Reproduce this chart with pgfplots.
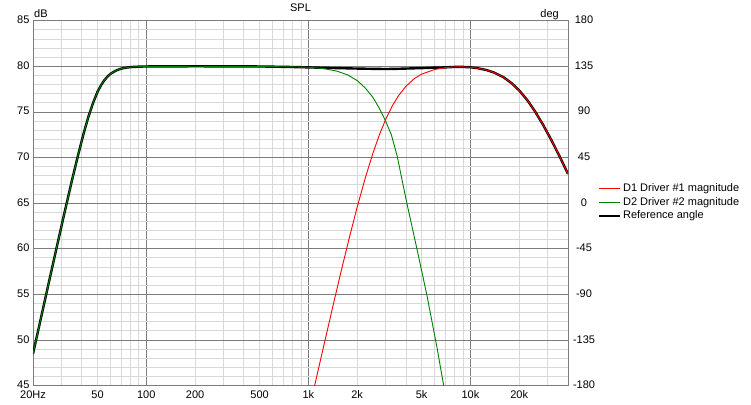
\documentclass[border=0pt]{standalone}
\usepackage{pgfplots}
\pgfplotsset{compat=1.18}
\usepackage{fontspec}
\setmainfont{Liberation Sans}
\definecolor{majgrid}{RGB}{125,125,125}
\definecolor{mingrid}{RGB}{216,216,216}
\definecolor{dgreen}{RGB}{0,128,0}
\begin{document}
\begin{tikzpicture}
\begin{axis}[name=ax, scale only axis, width=535pt, height=365pt,
  xmode=log, xmin=20, xmax=40000, ymin=45, ymax=85,
  axis line style={majgrid, line width=0.8pt},
  xtick={100,1000,10000}, xticklabels={100,1k,10k},
  minor xtick={20,30,40,50,60,70,80,90,200,300,400,500,600,700,800,900,2000,3000,4000,5000,6000,7000,8000,9000,20000,30000},
  extra x ticks={20,50,200,500,2000,5000,20000},
  extra x tick labels={20Hz,50,200,500,2k,5k,20k},
  extra x tick style={grid=none},
  ytick={45,50,...,85}, minor y tick num=4,
  grid=both,
  major grid style={majgrid, line width=0.8pt},
  minor grid style={mingrid, line width=0.8pt},
  major tick length=0pt, minor tick length=0pt,
  tick label style={font=\fontsize{11}{13}\selectfont},
  xticklabel style={yshift=-1.2pt},
  yticklabel style={yshift=0.8pt},
  /pgf/number format/assume math mode=true,
  title={SPL}, title style={font=\fontsize{11}{13}\selectfont},
  legend style={at={(1.056,0.558)}, anchor=north west, draw=none, fill=none,
    inner sep=0pt, font=\fontsize{11}{13}\selectfont,
    nodes={inner sep=1.5pt, text height=8pt, text depth=2.5pt}},
  legend cell align=left,
  legend image code/.code={\draw[#1] (0pt,0pt) -- (21pt,0pt);},
]
\addplot[black, line width=2.4pt, forget plot] coordinates {
(20,48.5) (22,51.8) (25,56.25) (28,60.16) (31,63.64) (35,67.7) (38,70.3) (41,72.6) (44,74.5) (47,76.0) (50,77.2) (52.5,77.9) (55,78.45) (57.5,78.85) (60,79.16) (65,79.53) (70,79.74) (75,79.85) (80,79.91) (90,79.96) (100,79.98) (200,80.0) (500,79.98) (750,79.93) (1000,79.88) (1250,79.83) (1500,79.8) (2000,79.75) (2500,79.72) (3000,79.7) (3500,79.72) (4000,79.75) (5000,79.8) (6000,79.85) (7000,79.88) (8000,79.93) (9000,79.93) (10000,79.89) (11000,79.8) (12500,79.6) (14000,79.31) (16000,78.8) (18000,78.13) (20000,77.35) (22500,76.26) (25000,75.07) (28000,73.62) (31500,71.95) (35500,70.13) (40000,68.2)};
\addplot[red, line width=0.9pt] coordinates {
(1090,44.9) (1200,48.15) (1400,53.3) (1600,57.68) (1800,61.39) (2000,64.55) (2250,67.82) (2500,70.45) (2750,72.54) (3000,74.18) (3300,75.68) (3600,76.78) (4000,77.81) (4500,78.64) (5000,79.14) (6000,79.64) (7000,79.85) (8000,79.93) (9000,79.93) (10000,79.89) (11000,79.8) (12500,79.6) (14000,79.31) (16000,78.8) (18000,78.13) (20000,77.35) (22500,76.26) (25000,75.07) (28000,73.62) (31500,71.95) (35500,70.13) (40000,68.2)};
\addlegendentry{D1 Driver \#1 magnitude}
\addplot[dgreen, line width=0.9pt] coordinates {
(20,48.5) (22,51.8) (25,56.25) (28,60.16) (31,63.64) (35,67.7) (38,70.3) (41,72.6) (44,74.5) (47,76.0) (50,77.2) (52.5,77.9) (55,78.45) (57.5,78.85) (60,79.16) (65,79.53) (70,79.74) (75,79.85) (80,79.91) (90,79.96) (100,79.98) (200,80.0) (500,79.98) (750,79.94) (1000,79.89) (1250,79.74) (1500,79.47) (1750,79.05) (2000,78.44) (2250,77.6) (2500,76.6) (2750,75.36) (3000,73.98) (3250,72.5) (3528,70.2) (3800,67.4) (4064,64.9) (4688,59.9) (5405,54.8) (6230,49.1) (6840,45.0)};
\addlegendentry{D2 Driver \#2 magnitude}
\addlegendimage{black, line width=2.4pt}
\addlegendentry{Reference angle}
\end{axis}
\begin{axis}[scale only axis, width=535pt, height=365pt,
  xmode=log, xmin=20, xmax=40000, ymin=-180, ymax=180,
  ytick={-180,-135,...,180},
  axis y line*=right, axis x line=none,
  y axis line style={draw=none},
  major tick length=0pt,
  yticklabel style={anchor=center, xshift=16pt, yshift=0.8pt, font=\fontsize{11}{13}\selectfont},
  /pgf/number format/assume math mode=true,
]
\addplot[draw=none] coordinates {(100,0)};
\end{axis}
\node[anchor=base west, inner sep=0pt, font=\fontsize{11}{13}\selectfont] at ([xshift=1pt, yshift=3pt]ax.north west) {dB};
\node[anchor=base east, inner sep=0pt, font=\fontsize{11}{13}\selectfont] at ([xshift=-9pt, yshift=3pt]ax.north east) {deg};
\path[use as bounding box] ([xshift=-33pt, yshift=-19pt]ax.south west) rectangle ([xshift=183pt, yshift=16pt]ax.north east);
\end{tikzpicture}
\end{document}
